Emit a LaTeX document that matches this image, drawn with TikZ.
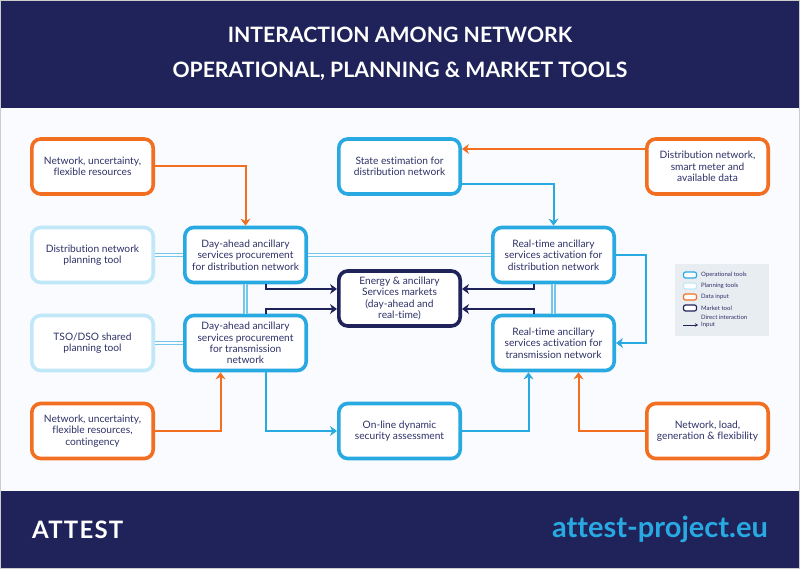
\documentclass[tikz,border=0pt]{standalone}
\usepackage{fontspec}
\setmainfont[Ligatures={TeX,NoCommon}]{Lato}
\usetikzlibrary{arrows.meta,calc}
\definecolor{navy}{HTML}{1F2359}
\definecolor{opblue}{HTML}{29A9E1}
\definecolor{planblue}{HTML}{C0E8F9}
\definecolor{datao}{HTML}{F26E21}
\definecolor{paper}{HTML}{F9FBFE}
\definecolor{inkblue}{HTML}{2E3168}
\definecolor{keybg}{HTML}{E8EDF2}
\tikzset{every picture/.style={>={Stealth[length=7pt,width=10pt]}},
  box/.style={shape=rectangle,rounded corners=9pt,line width=3.6pt,fill=white,minimum width=121.4pt,minimum height=55pt,
    align=center,text=inkblue,font=\fontsize{10.2}{11.4}\selectfont,inner sep=0pt},
  optool/.style={box,draw=opblue},
  plantool/.style={box,draw=planblue},
  datatool/.style={box,draw=datao},
  markettool/.style={box,draw=navy},
  direct/.style={double=paper,double distance=1.6pt,line width=1.3pt,draw=opblue!65},
  datain/.style={->,line width=2pt,draw=datao},
  opin/.style={->,line width=2pt,draw=opblue},
  navyin/.style={->,line width=2pt,draw=navy},
  band/.style={shape=rectangle,fill=navy,inner sep=0pt,minimum width=800pt,anchor=north west},
  swatch/.style={shape=rectangle,rounded corners=2pt,line width=1.2pt,fill=white,minimum width=13pt,minimum height=6pt,inner sep=0pt},
  keytext/.style={anchor=west,text=inkblue,font=\fontsize{6}{6}\selectfont,inner sep=0pt}}

\begin{document}
\begin{tikzpicture}[x=1pt,y=-1pt]
  \useasboundingbox (0,0) rectangle (800,569);
  \fill[paper] (0,0) rectangle (800,569);
  \node (top) [band,minimum height=108pt] at (0,0) {};
  \node (foot) [band,minimum height=78pt] at (0,491) {};
  \node (title) [text=white,font=\fontsize{21.2}{35}\selectfont\bfseries,align=center] at (400,54)
    {INTERACTION AMONG NETWORK\\OPERATIONAL, PLANNING \& MARKET TOOLS};
  \node (logo) [anchor=west,text=white,font=\fontsize{24}{24}\selectfont\bfseries\addfontfeature{LetterSpace=5},inner sep=0pt] at (32,530) {ATTEST};
  \node (site) [anchor=east,text=opblue,font=\fontsize{29}{29}\selectfont\bfseries,inner sep=0pt] at (768,529) {attest-project.eu};

  % inputs and planning tools, left column
  \node (dataA) [datatool] at (92.5,166.5) {Network, uncertainty,\\flexible resources};
  \node (planD) [plantool] at (92.5,255) {Distribution network\\planning tool};
  \node (planT) [plantool] at (92.5,343) {TSO/DSO shared\\planning tool};
  \node (dataB) [datatool] at (92.5,431) {Network, uncertainty,\\flexible resources,\\contingency};
  % day-ahead procurement
  \node (dayD) [optool] at (245.5,255) {Day-ahead ancillary\\services procurement\\for distribution network};
  \node (dayT) [optool] at (245.5,343) {Day-ahead ancillary\\services procurement\\for transmission\\network};
  % middle column
  \node (state) [optool] at (399.5,166.5) {State estimation for\\distribution network};
  \node (market) [markettool] at (399.5,298.5) {Energy \& ancillary\\Services markets\\(day-ahead and\\real-time)};
  \node (online) [optool] at (399.5,431) {On-line dynamic\\security assessment};
  % real-time activation
  \node (rtD) [optool] at (553.5,255) {Real-time ancillary\\services activation for\\distribution network};
  \node (rtT) [optool] at (553.5,343) {Real-time ancillary\\services activation for\\transmission network};
  % inputs, right column
  \node (dataC) [datatool] at (707.5,166.5) {Distribution network,\\smart meter and\\available data};
  \node (dataD) [datatool] at (707.5,431) {Network, load,\\generation \& flexibility};

  % direct interaction
  \draw [direct] (planD) -- (dayD);
  \draw [direct] (planT) -- (dayT);
  \draw [direct] (dayD) -- (rtD);
  \draw [direct] (dayD) -- (dayT);
  \draw [direct] (rtD) -- (rtT);

  % inputs
  \draw [datain] (dataA) -| (dayD);
  \draw [datain] (dataB) -| ($(dayT.south)+(-25,0)$);
  \draw [datain] ($(dataC.west)+(0,-17.5)$) -- ($(state.east)+(0,-17.5)$);
  \draw [datain] (dataD) -| ($(rtT.south)+(25,0)$);
  \draw [opin] ($(state.east)+(0,17.5)$) -| (rtD);
  \draw [opin] ($(dayT.south)+(20,0)$) |- (online);
  \draw [opin] (online) -| ($(rtT.south)+(-25,0)$);
  \draw [opin] (rtD.east) -- ++(30,0) |- (rtT.east);
  \draw [navyin] ($(dayD.south)+(20,0)$) |- ($(market.west)+(0,-9.5)$);
  \draw [navyin] ($(dayT.north)+(20,0)$) |- ($(market.west)+(0,10.5)$);
  \draw [navyin] ($(rtD.south)+(-19.5,0)$) |- ($(market.east)+(0,-9.5)$);
  \draw [navyin] ($(rtT.north)+(-19.5,0)$) |- ($(market.east)+(0,10.5)$);

  % key
  \node (key) [shape=rectangle,fill=keybg,minimum width=94pt,minimum height=72pt,inner sep=0pt,anchor=north west] at (675,264) {};
  \node (kop) [swatch,draw=opblue] at (690,275) {};
  \node (kpl) [swatch,draw=planblue] at (690,286) {};
  \node (kda) [swatch,draw=datao] at (690,297) {};
  \node (kma) [swatch,draw=navy] at (690,308) {};
  \node (kopt) [keytext] at (701,275) {Operational tools};
  \node (kplt) [keytext] at (701,286) {Planning tools};
  \node (kdat) [keytext] at (701,297) {Data input};
  \node (kmat) [keytext] at (701,308) {Market tool};
  \node (kdit) [keytext] at (701,317) {Direct interaction};
  \node (kint) [keytext] at (701,325) {Input};
  \coordinate (kdiA) at (683,317);
  \coordinate (kdiB) at (698,317);
  \coordinate (kinA) at (683,325);
  \coordinate (kinB) at (698,325);
  \draw [direct,line width=.8pt,double=keybg,double distance=1.2pt] (kdiA) -- (kdiB);
  \draw [->,line width=.9pt,draw=navy,>={Stealth[length=3pt,width=3.5pt]}] (kinA) -- (kinB);

  % thin frame
  \draw [line width=1pt,draw=black!20] (0.5,0.5) rectangle (799.5,568.5);
\end{tikzpicture}
\end{document}
